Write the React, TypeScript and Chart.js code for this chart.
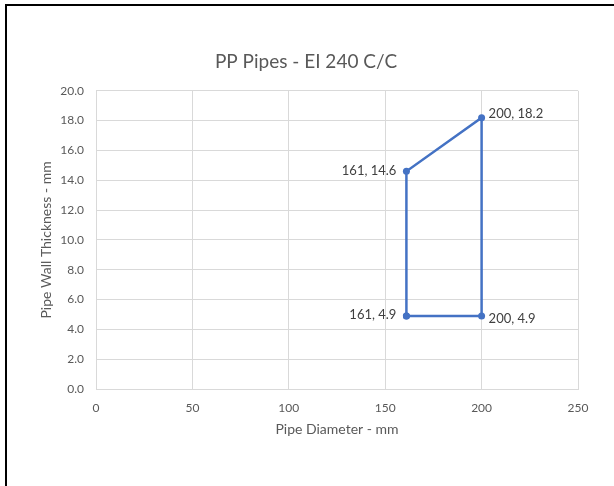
import React, { useEffect, useRef } from "react";
import { Chart, registerables } from "chart.js";

Chart.register(...registerables);

const diameters = [161, 161, 200, 200, 161];
const thicknesses = [4.9, 14.6, 18.2, 4.9, 4.9];
const labelSides = ["left", "left", "right", "right", "none"];

const FONT = "Lato, 'Open Sans', sans-serif";

const labelPlugin = {
  id: "pointLabels",
  afterDatasetsDraw(chart: any) {
    const ctx = chart.ctx;
    const meta = chart.getDatasetMeta(0);
    ctx.save();
    ctx.font = `13px ${FONT}`;
    ctx.fillStyle = "#404040";
    ctx.textBaseline = "middle";
    meta.data.forEach((pt: any, i: number) => {
      const side = labelSides[i];
      if (side === "none") return;
      const text = `${diameters[i]}, ${thicknesses[i]}`;
      if (side === "left") {
        ctx.textAlign = "right";
        ctx.fillText(text, pt.x - 10, pt.y - 1);
      } else {
        ctx.textAlign = "left";
        ctx.fillText(text, pt.x + 7, pt.y - (i === 2 ? 4 : -3));
      }
    });
    ctx.restore();
  },
};

export default function App() {
  const ref = useRef<HTMLCanvasElement>(null);
  useEffect(() => {
    document.body.style.margin = "0";
    const chart = new Chart(ref.current!, {
      type: "scatter",
      data: {
        datasets: [
          {
            data: diameters.map((x, i) => ({ x, y: thicknesses[i] })),
            showLine: true,
            borderColor: "#4472C4",
            backgroundColor: "#4472C4",
            borderWidth: 2.5,
            pointRadius: 3.5,
            pointBorderWidth: 0,
          },
        ],
      },
      options: {
        responsive: false,
        animation: false,
        layout: { padding: { left: 34, right: 36, top: 0, bottom: 44 } },
        plugins: {
          legend: { display: false },
          tooltip: { enabled: false },
          title: {
            display: true,
            text: "PP Pipes - EI 240 C/C",
            color: "#595959",
            font: { family: FONT, size: 19, weight: "normal" },
            padding: { top: 50, bottom: 18 },
          },
        },
        scales: {
          x: {
            type: "linear",
            min: 0,
            max: 250,
            ticks: {
              stepSize: 50,
              color: "#595959",
              font: { family: FONT, size: 12 },
              padding: 12,
            },
            grid: { color: "#d9d9d9", drawTicks: false },
            border: { color: "#d9d9d9" },
            title: {
              display: true,
              text: "Pipe Diameter - mm",
              color: "#595959",
              font: { family: FONT, size: 14 },
              padding: 4,
            },
            afterFit: (s: any) => {
              s.height = 53;
            },
          },
          y: {
            type: "linear",
            min: 0,
            max: 20,
            ticks: {
              stepSize: 2,
              color: "#595959",
              font: { family: FONT, size: 12 },
              padding: 12,
              callback: (v: any) => Number(v).toFixed(1),
            },
            grid: { color: "#d9d9d9", drawTicks: false },
            border: { color: "#d9d9d9" },
            title: {
              display: true,
              text: "Pipe Wall Thickness - mm",
              color: "#595959",
              font: { family: FONT, size: 14 },
              padding: 4,
            },
            afterFit: (s: any) => {
              s.width = 62;
            },
          },
        },
      },
      plugins: [labelPlugin],
    });
    return () => chart.destroy();
  }, []);
  return (
    <div style={{ position: "relative", width: 614, height: 486, background: "#fff" }}>
      <canvas ref={ref} width={614} height={486} style={{ display: "block" }} />
      <div
        style={{
          position: "absolute",
          left: 5,
          top: 4,
          right: 0,
          bottom: 0,
          borderLeft: "2px solid #000",
          borderTop: "2px solid #000",
          pointerEvents: "none",
        }}
      />
    </div>
  );
}
